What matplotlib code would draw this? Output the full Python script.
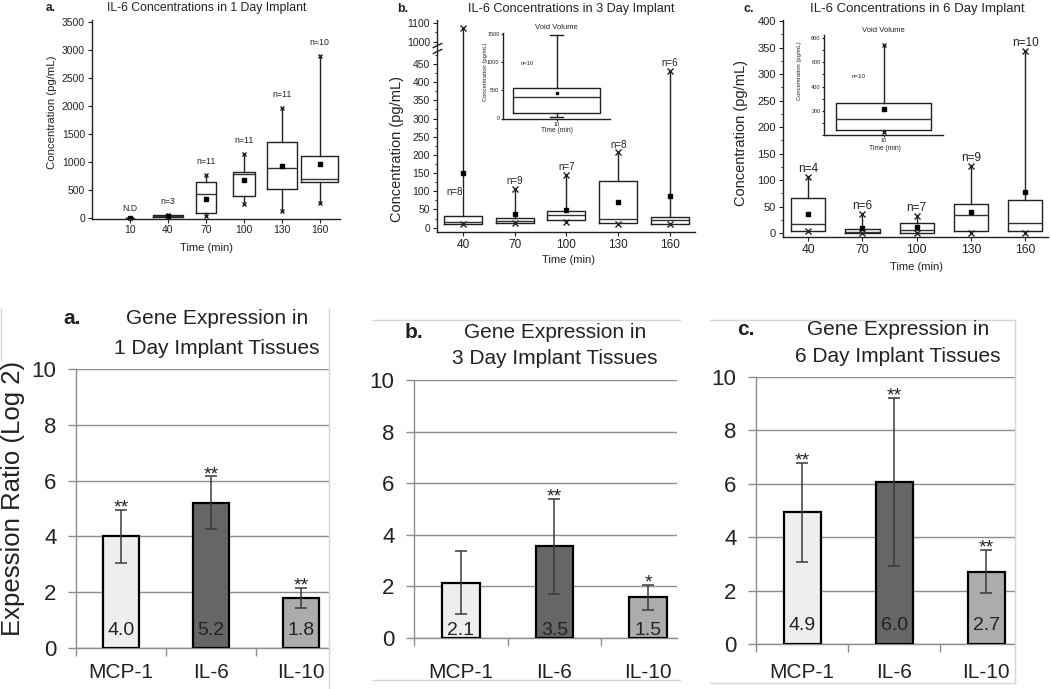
import numpy as np
import matplotlib
matplotlib.use('Agg')
import matplotlib.pyplot as plt
from matplotlib.lines import Line2D
from matplotlib.ticker import FixedLocator, MultipleLocator

plt.rcParams['font.family'] = ['Liberation Sans', 'DejaVu Sans']

# ---------------- top row: IL-6 concentrations (pg/mL) ----------------
day1_times = [10, 40, 70, 100, 130, 160]
day1_q1 = [0, 20, 90, 388, 519, 650]
day1_med = [0, 35, 430, 793, 894, 704]
day1_q3 = [0, 55, 638, 829, 1360, 1109]
day1_lo = [0, 20, 42, 256, 137, 268]
day1_hi = [0, 55, 775, 1150, 1968, 2904]
day1_mean = [0, 40, 352, 686, 936, 972]
day1_n = ['N.D', 'n=3', 'n=11', 'n=11', 'n=11', 'n=10']

day3_times = [40, 70, 100, 130, 160]
day3_q1 = [9, 14, 21, 12, 9]
day3_med = [15, 19, 34, 25, 21]
day3_q3 = [32, 26, 45, 128, 30]
day3_lo = [9, 14, 15, 9, 9]
day3_hi = [1074, 107, 146, 208, 432]
day3_mean = [151, 37, 48, 70, 87]
day3_n = ['n=8', 'n=9', 'n=7', 'n=8', 'n=6']

day6_times = [40, 70, 100, 130, 160]
day6_q1 = [4.4, 1.3, 1.3, 4.4, 4.4]
day6_med = [17, 3, 6, 34, 19]
day6_q3 = [65.6, 8.8, 19, 55.6, 62.5]
day6_lo = [4, 1, 1, 1, 1]
day6_hi = [106, 37, 32.5, 126, 343]
day6_mean = [37, 10.6, 12, 40.6, 78]
day6_n = ['n=4', 'n=6', 'n=7', 'n=9', 'n=10']

# void volume insets (10 min)
void3 = dict(q1=101, med=375, q3=536, whislo=18, whishi=1488, mean=446)
void6 = dict(q1=43, med=133, q3=264, whislo=21, whishi=740, mean=216)
void_n = 'n=10'

# ---------------- bottom row: gene expression (log2 ratio) ----------------
genes = ['MCP-1', 'IL-6', 'IL-10']
bar_colors = ['#eeeeee', '#666666', '#acacac']
expr1 = [4.0, 5.2, 1.8]
err1 = [0.96, 0.95, 0.35]
stars1 = ['**', '**', '**']
expr3 = [2.15, 3.55, 1.57]
err3 = [1.23, 1.85, 0.47]
stars3 = ['', '**', '*']
expr6 = [4.93, 6.07, 2.71]
err6 = [1.85, 3.16, 0.81]
stars6 = ['**', '**', '**']
text1 = ['4.0', '5.2', '1.8']
text3 = ['2.1', '3.5', '1.5']
text6 = ['4.9', '6.0', '2.7']

W, H = 1050, 689


def fx(px):
    return px / W


def fy(py):
    return 1 - py / H


def add_axes_px(fig, x0, y0, x1, y1):
    return fig.add_axes([fx(x0), fy(y1), fx(x1 - x0), (y1 - y0) / H])


def origin_style(ax, size):
    for s in ['top', 'right']:
        ax.spines[s].set_visible(False)
    for s in ['left', 'bottom']:
        ax.spines[s].set_linewidth(1.0)
        ax.spines[s].set_color('#222222')
    ax.tick_params(direction='out', length=3, width=0.8, labelsize=size, colors='#222222', pad=2)
    ax.tick_params(which='minor', direction='out', length=1.8, width=0.6)


def draw_boxes(ax, times, q1, med, q3, lo, hi, mean, widths, ms=3.5, mk=4):
    stats = [dict(q1=a, med=b, q3=c, whislo=d, whishi=e, mean=f)
             for a, b, c, d, e, f in zip(q1, med, q3, lo, hi, mean)]
    ax.bxp(stats, positions=times, widths=widths, showfliers=False, showmeans=True,
           showcaps=False, manage_ticks=False,
           boxprops=dict(color='#222222', lw=1.0),
           whiskerprops=dict(color='#222222', lw=1.0),
           medianprops=dict(color='#333333', lw=1.0),
           meanprops=dict(marker='s', markerfacecolor='k', markeredgecolor='k', markersize=ms))
    ax.plot(times, lo, 'x', color='#222222', ms=mk, mew=1.0, clip_on=False)
    ax.plot(times, hi, 'x', color='#222222', ms=mk, mew=1.0, clip_on=False)


fig = plt.figure(figsize=(W / 100, H / 100), dpi=100)

# ---- top a ----
ax = add_axes_px(fig, 92, 20, 340, 218.5)
origin_style(ax, 7.5)
draw_boxes(ax, day1_times, day1_q1, day1_med, day1_q3, day1_lo, day1_hi, day1_mean,
           [6, 24, 16, 17, 24, 29], ms=3.2, mk=3.5)
for t, h, lab in zip(day1_times, day1_hi, day1_n):
    ax.text(t, h + (180 if lab == 'N.D' else 240), lab, ha='center', va='center', fontsize=6.3, color='#222222')
ax.set_xlim(-20, 176)
ax.set_ylim(-5, 3540)
ax.set_xticks(day1_times)
ax.set_yticks(np.arange(0, 3501, 500))
fig.text(fx(207), fy(8), 'IL-6 Concentrations in 1 Day Implant', ha='center', va='center', fontsize=8.8, color='#222222')
fig.text(fx(46), fy(8), 'a.', ha='left', va='center', fontsize=8.5, fontweight='bold', color='#222222')
fig.text(fx(52), fy(112), 'Concentration (pg/mL)', rotation=90, ha='center', va='center', fontsize=8.2, color='#222222')
fig.text(fx(207), fy(248), 'Time (min)', ha='center', va='center', fontsize=8, color='#222222')

# ---- top b (broken y axis) ----
BRK_LO, BRK_HI, BRK_RATIO = 500, 978, 0.505
_xp = [-1e5, BRK_LO, BRK_HI, 1e5]
_fp = [-1e5, BRK_LO, BRK_LO + 0.5, BRK_LO + 0.5 + (1e5 - BRK_HI) * BRK_RATIO]


def brk_fwd(v):
    return np.interp(np.asarray(v, dtype=float), _xp, _fp)


def brk_inv(v):
    return np.interp(np.asarray(v, dtype=float), _fp, _xp)


ax = add_axes_px(fig, 437, 20, 695, 232)
ax.set_yscale('function', functions=(brk_fwd, brk_inv))
origin_style(ax, 7.5)
draw_boxes(ax, day3_times, day3_q1, day3_med, day3_q3, day3_lo, day3_hi, day3_mean, 22)
for t, h, lab in zip(day3_times, day3_hi, day3_n):
    if h > BRK_LO:
        ax.text(t - 5, 98, lab, ha='center', va='center', fontsize=7, color='#222222',
                bbox=dict(fc='white', ec='none', pad=0.3))
    else:
        ax.text(t, h + 20, lab, ha='center', va='center', fontsize=7, color='#222222')
ax.set_xlim(25, 174.5)
ax.set_ylim(-12, 1118)
ax.set_xticks(day3_times)
ax.tick_params(axis='x', labelsize=8.5)
ax.set_yticks(list(range(0, 451, 50)) + [1000, 1100])
ax.yaxis.set_minor_locator(FixedLocator(list(range(25, 500, 50)) + [1050]))
ax.plot([0, 0], [485, 982], transform=ax.get_yaxis_transform(), marker=[(-1, -0.5), (1, 0.5)],
        markersize=7, linestyle='none', color='#222222', mec='#222222', mew=1, clip_on=False)
fig.text(fx(571), fy(9), 'IL-6 Concentrations in 3 Day Implant', ha='center', va='center', fontsize=9.2, color='#222222')
fig.text(fx(397), fy(9), 'b.', ha='left', va='center', fontsize=9, fontweight='bold', color='#222222')
fig.text(fx(397), fy(149), 'Concentration (pg/mL)', rotation=90, ha='center', va='center', fontsize=10.5, color='#222222')
fig.text(fx(569), fy(260), 'Time (min)', ha='center', va='center', fontsize=8, color='#222222')

# inset b
ax = add_axes_px(fig, 503, 33, 610, 118.5)
origin_style(ax, 4)
ax.tick_params(length=1.5, pad=1)
ax.bxp([void3], positions=[10], widths=16.3, showfliers=False, showmeans=True, manage_ticks=False,
       capwidths=2.5, boxprops=dict(color='#222222', lw=1.0), whiskerprops=dict(color='#222222', lw=1.0),
       capprops=dict(color='#222222', lw=1.0), medianprops=dict(color='#333333', lw=1.0),
       meanprops=dict(marker='s', markerfacecolor='k', markeredgecolor='k', markersize=1.5))
ax.text(4.5, 982, void_n, ha='center', va='center', fontsize=4.2, color='#222222')
ax.set_xlim(0, 20)
ax.set_ylim(0, 1520)
ax.set_xticks([10])
ax.set_yticks([0, 500, 1000, 1500])
ax.set_title('Void Volume', fontsize=5.5, pad=3, color='#222222')
fig.text(fx(485), fy(72), 'Concentration (pg/mL)', rotation=90, ha='center', va='center', fontsize=4.2, color='#222222')
fig.text(fx(557), fy(130), 'Time (min)', ha='center', va='center', fontsize=4.8, color='#222222')

# ---- top c ----
ax = add_axes_px(fig, 783, 20, 1048, 237)
origin_style(ax, 8)
draw_boxes(ax, day6_times, day6_q1, day6_med, day6_q3, day6_lo, day6_hi, day6_mean, 19)
for t, h, lab in zip(day6_times, day6_hi, day6_n):
    ax.text(t, h + 15, lab, ha='center', va='center', fontsize=8.5, color='#222222')
ax.set_xlim(26, 172.7)
ax.set_ylim(-7, 402)
ax.set_xticks(day6_times)
ax.tick_params(axis='x', labelsize=8.8)
ax.set_yticks(np.arange(0, 401, 50))
ax.yaxis.set_minor_locator(MultipleLocator(25))
fig.text(fx(917), fy(9), 'IL-6 Concentrations in 6 Day Implant', ha='center', va='center', fontsize=9.5, color='#222222')
fig.text(fx(744), fy(9), 'c.', ha='left', va='center', fontsize=9, fontweight='bold', color='#222222')
fig.text(fx(741), fy(133), 'Concentration (pg/mL)', rotation=90, ha='center', va='center', fontsize=10.5, color='#222222')
fig.text(fx(917), fy(267), 'Time (min)', ha='center', va='center', fontsize=8, color='#222222')

# inset c
ax = add_axes_px(fig, 824, 35, 943, 135)
origin_style(ax, 4)
ax.tick_params(length=1.5, pad=1)
draw_boxes(ax, [10], [void6['q1']], [void6['med']], [void6['q3']], [void6['whislo']],
           [void6['whishi']], [void6['mean']], 16.1, ms=2.5, mk=3.5)
ax.text(5.8, 484, void_n, ha='center', va='center', fontsize=4.5, color='#222222')
ax.set_xlim(0, 20)
ax.set_ylim(0, 825)
ax.set_xticks([10])
ax.set_yticks([200, 400, 600, 800])
ax.yaxis.set_minor_locator(MultipleLocator(100))
ax.set_title('Void Volume', fontsize=5.5, pad=2, color='#222222')
fig.text(fx(800), fy(71), 'Concentration (pg/mL)', rotation=90, ha='center', va='center', fontsize=4.2, color='#222222')
fig.text(fx(885), fy(148), 'Time (min)', ha='center', va='center', fontsize=4.8, color='#222222')


# ---------------- bottom row ----------------
def draw_bars(ax, vals, errs, stars, texts, text_y, label_pad):
    x = np.arange(len(genes))
    ax.bar(x, vals, width=0.4, color=bar_colors, edgecolor='black', linewidth=1.6, zorder=3)
    ax.errorbar(x, vals, yerr=errs, fmt='none', ecolor='#3a3a3a', elinewidth=1.1,
                capsize=4, capthick=1.1, zorder=4)
    for xi, v, e, s, t in zip(x, vals, errs, stars, texts):
        if s:
            ax.text(xi, v + e - 0.1, s, ha='center', va='baseline', fontsize=14, color='#222222', zorder=5)
        ax.text(xi, text_y, t, ha='center', va='baseline', fontsize=14, color='#222222', zorder=5)
    for s in ['top', 'right']:
        ax.spines[s].set_visible(False)
    for s in ['left', 'bottom']:
        ax.spines[s].set_color('#8c8c8c')
        ax.spines[s].set_linewidth(1.0)
    ax.set_ylim(0, 10)
    ax.set_xlim(-0.5, 2.31)
    ax.set_yticks(np.arange(0, 11, 2))
    ax.yaxis.grid(True, color='#8c8c8c', lw=1.0)
    ax.set_axisbelow(True)
    ax.set_xticks(x, genes)
    ax.set_xticks([-0.5, 0.5, 1.5], minor=True)
    ax.tick_params(axis='x', which='major', length=0, pad=label_pad, labelsize=15, colors='#222222')
    ax.tick_params(axis='x', which='minor', length=5.5, width=1.0, color='#8c8c8c')
    ax.tick_params(axis='y', length=5.5, width=1.0, color='#8c8c8c', pad=8.5,
                   labelsize=16, labelcolor='#222222')


def bottom_title(letter, x_letter, x_mid, y1, y2, line1, line2):
    fig.text(fx(x_letter), fy(y1), letter, ha='left', va='center', fontsize=15, fontweight='bold', color='#222222')
    fig.text(fx(x_mid), fy(y1), line1, ha='center', va='center', fontsize=15, color='#222222')
    fig.text(fx(x_mid), fy(y2), line2, ha='center', va='center', fontsize=15, color='#222222')


ax = add_axes_px(fig, 76, 369, 329, 648)
draw_bars(ax, expr1, err1, stars1, text1, 0.45, 11)
bottom_title('a.', 63, 217, 318, 348, 'Gene Expression in', '1 Day Implant Tissues')
fig.text(fx(13), fy(498), 'Expession Ratio (Log 2)', rotation=90, ha='center', va='center', fontsize=18.5, color='#222222')

ax = add_axes_px(fig, 414, 380, 677, 638)
draw_bars(ax, expr3, err3, stars3, text3, 0.13, 18)
bottom_title('b.', 405, 555, 332, 358, 'Gene Expression in', '3 Day Implant Tissues')

ax = add_axes_px(fig, 756, 377, 1015, 644)
draw_bars(ax, expr6, err6, stars6, text6, 0.52, 14)
bottom_title('c.', 737, 898, 330, 357, 'Gene Expression in', '6 Day Implant Tissues')

# light chart-area borders
border = '#d6d6d6'
for xs, ys in [([329, 329], [308, 689]), ([1, 1], [308, 360]),
               ([373, 680], [320, 320]), ([373, 680], [680, 680]),
               ([710, 1015], [320, 320]), ([1015, 1015], [320, 683]), ([710, 1015], [683, 683])]:
    fig.add_artist(Line2D([fx(v) for v in xs], [fy(v) for v in ys], color=border, lw=1.0))

fig.savefig('out.png', dpi=100)
